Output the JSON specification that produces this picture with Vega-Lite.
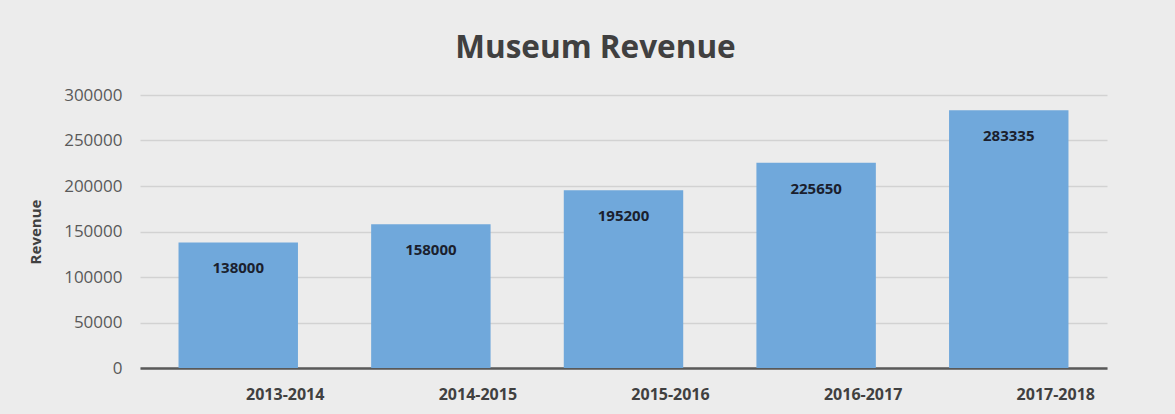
{
  "$schema": "https://vega.github.io/schema/vega-lite/v6.json",
  "autosize": "none",
  "width": 967,
  "height": 273,
  "padding": {"left": 140, "top": 95, "right": 68, "bottom": 46},
  "background": "#ececec",
  "title": {
    "text": "Museum Revenue",
    "font": "Open Sans",
    "fontSize": 31.5,
    "fontWeight": "bold",
    "color": "#404040",
    "anchor": "middle",
    "dx": -28,
    "baseline": "alphabetic",
    "offset": -3
  },
  "data": {
    "values": [
      {"year": "2013-2014", "revenue": 138000},
      {"year": "2014-2015", "revenue": 158000},
      {"year": "2015-2016", "revenue": 195200},
      {"year": "2016-2017", "revenue": 225650},
      {"year": "2017-2018", "revenue": 283335}
    ]
  },
  "encoding": {
    "x": {
      "field": "year",
      "type": "nominal",
      "sort": null,
      "scale": {"paddingInner": 0.38, "paddingOuter": 0.2},
      "axis": {
        "title": null,
        "labelAngle": 0,
        "labelFont": "Open Sans",
        "labelFontSize": 16,
        "labelFontWeight": "bold",
        "labelColor": "#404040",
        "labelOffset": 47,
        "labelPadding": 18,
        "ticks": false,
        "domainColor": "#595959",
        "domainWidth": 2.5,
        "grid": false
      }
    },
    "y": {
      "field": "revenue",
      "type": "quantitative",
      "scale": {"domain": [0, 300000], "nice": false},
      "axis": {
        "title": "Revenue",
        "titleFont": "Open Sans",
        "titleFontSize": 15,
        "titleFontWeight": "bold",
        "titleColor": "#404040",
        "titlePadding": 20,
        "values": [0, 50000, 100000, 150000, 200000, 250000, 300000],
        "format": "d",
        "labelFont": "Open Sans",
        "labelFontSize": 17,
        "labelColor": "#595959",
        "labelPadding": 18,
        "domain": false,
        "ticks": false,
        "gridColor": "#d2d2d2",
        "gridWidth": 1.5
      }
    }
  },
  "layer": [
    {
      "mark": {"type": "bar", "color": "#70a8db"}
    },
    {
      "mark": {
        "type": "text",
        "baseline": "middle",
        "dy": 26,
        "font": "Open Sans",
        "fontSize": 15,
        "fontWeight": "bold",
        "color": "#1b1f2e"
      },
      "encoding": {
        "text": {"field": "revenue", "type": "quantitative", "format": "d"}
      }
    }
  ],
  "config": {
    "view": {"stroke": null}
  }
}
